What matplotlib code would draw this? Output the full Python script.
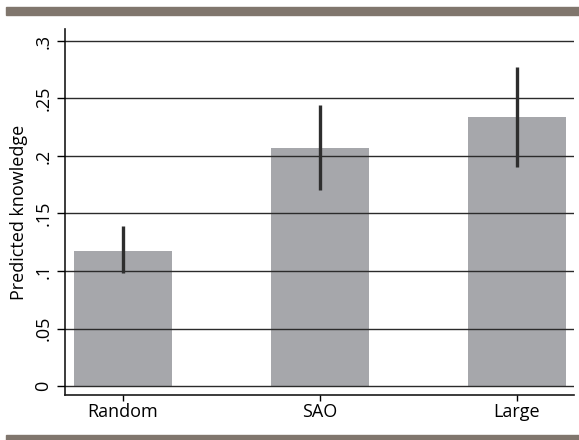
import matplotlib
matplotlib.use("Agg")
import matplotlib.pyplot as plt
from matplotlib.patches import Rectangle

categories = ["Random", "SAO", "Large"]
values = [0.1177, 0.2067, 0.2342]
ci_low = [0.098, 0.1704, 0.1907]
ci_high = [0.1394, 0.2443, 0.2777]
yticks = [0, 0.05, 0.1, 0.15, 0.2, 0.25, 0.3]
ytick_labels = ["0", ".05", ".1", ".15", ".2", ".25", ".3"]

plt.rcParams['font.family'] = ['Open Sans', 'DejaVu Sans']

fig = plt.figure(figsize=(5.79, 4.40), dpi=100)
ax = fig.add_axes([65/579, 45/440, (574-65)/579, (411-45)/440])

x = list(range(len(categories)))
ax.bar(x, values, width=0.5, color="#a6a7ab", zorder=1)
ax.set_axisbelow(False)
for yt in yticks:
    ax.axhline(yt, color="#2b2b2b", lw=1.0, zorder=2)
for xi, lo, hi in zip(x, ci_low, ci_high):
    ax.plot([xi, xi], [lo, hi], color="#2e2e2e", lw=2.4, solid_capstyle="butt", zorder=3)

ax.set_xlim(-0.295, 2.29)
ax.set_ylim(-0.0078, 0.3104)
ax.set_xticks(x)
ax.set_xticklabels(categories, fontsize=13)
ax.set_yticks(yticks)
ax.set_yticklabels(ytick_labels, fontsize=13, rotation=90, va="center")
ax.tick_params(axis="y", length=6, width=1, pad=3)
ax.tick_params(axis="x", length=4, width=1, pad=2)
ax.set_ylabel("Predicted knowledge", fontsize=13, labelpad=5)
for s in ["top", "right"]:
    ax.spines[s].set_visible(False)
for s in ["left", "bottom"]:
    ax.spines[s].set_color("#1a1a1a")
    ax.spines[s].set_linewidth(1.2)

fig.patches.append(Rectangle((6/579, 1 - 15/440), 573/579, 8/440,
                             transform=fig.transFigure, color="#80766d", zorder=0))
fig.patches.append(Rectangle((6/579, 0), 573/579, 5/440,
                             transform=fig.transFigure, color="#80766d", zorder=0))

fig.savefig("out.png", dpi=100)
